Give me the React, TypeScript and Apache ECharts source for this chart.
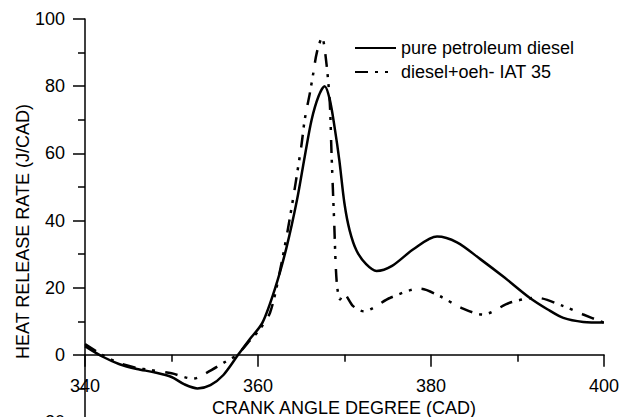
import React, { useEffect, useRef } from "react";
import * as echarts from "echarts";

const seriesNames = ["pure petroleum diesel", "diesel+oeh- IAT 35"];

const pureDiesel: [number, number][] = [
  [340, 2.6], [342, -0.5], [344, -2.8], [346, -4.2], [348, -5.2], [350, -6.6],
  [351.5, -8.8], [353, -10], [354.5, -9], [356, -6], [357.7, 0], [359, 4.5],
  [360.5, 9.5], [362, 20], [363.3, 32], [364.5, 46], [365.4, 59], [366.2, 70],
  [367, 77], [367.7, 80], [368.3, 76], [368.9, 67], [369.4, 58], [370, 45],
  [370.6, 37], [371.4, 31], [372.5, 27], [373.7, 25], [375.5, 26.5], [378, 31.5],
  [380.7, 35.2], [383, 33.5], [385.7, 28.5], [388.5, 23], [391.4, 17], [393.5, 13.5],
  [395.3, 11], [397.6, 9.8], [400, 9.6],
];

const oehBlend: [number, number][] = [
  [340, 3.2], [342, 0], [344, -2.5], [346, -3.9], [347.5, -4.5], [350, -5.5],
  [352.5, -7.1], [354.1, -5.3], [356.4, -1.8], [357.6, 0], [358.8, 3.5],
  [360.2, 7.6], [361.4, 12.6], [362.5, 24.5], [363.7, 41], [365, 62], [365.4, 70],
  [366, 78], [366.4, 84], [366.8, 90], [367.4, 94.4], [367.9, 87], [368.3, 75],
  [368.5, 60], [368.8, 40], [369.1, 21.6], [369.5, 16.5], [369.9, 18.3], [371, 14.5],
  [372.2, 13], [375.3, 17], [378.7, 19.7], [381, 17.5], [383.5, 14], [386, 12],
  [389.1, 15.5], [392.2, 17], [395.3, 14.5], [397.6, 12], [400, 9.6],
];

const xAxisTitle = "CRANK ANGLE DEGREE (CAD)";
const yAxisTitle = "HEAT RELEASE RATE (J/CAD)";

const FONT = "Liberation Sans, Arial, sans-serif";

export default function App() {
  const ref = useRef<HTMLDivElement>(null);
  useEffect(() => {
    if (!ref.current) return;
    const chart = echarts.init(ref.current, undefined, { renderer: "svg" });
    const axisCommon = {
      axisLine: { show: true, lineStyle: { color: "#000", width: 1.5 } },
      axisTick: { show: true, length: 12, lineStyle: { color: "#000", width: 1.5 } },
      minorTick: { show: true, splitNumber: 2, length: 7, lineStyle: { color: "#000", width: 1.5 } },
      splitLine: { show: false },
      axisLabel: { color: "#000", fontSize: 18, fontFamily: FONT },
    };
    const gridTop = 19;
    const gridHeight = 403;
    const yMin = -20;
    const yMax = 100;
    // shift the x axis up so that it sits on the y = 0 line
    const xOffset = -(gridHeight * (0 - yMin)) / (yMax - yMin);
    chart.setOption({
      animation: false,
      backgroundColor: "#fff",
      grid: {
        left: 85,
        top: gridTop,
        width: 519,
        height: gridHeight,
        containLabel: false,
        outerBoundsMode: "none",
      },
      xAxis: {
        type: "value",
        min: 340,
        max: 400,
        interval: 20,
        position: "bottom",
        offset: xOffset,
        ...axisCommon,
        axisLine: { ...axisCommon.axisLine, onZero: false },
        axisLabel: { ...axisCommon.axisLabel, margin: 22 },
      },
      yAxis: {
        type: "value",
        min: yMin,
        max: yMax,
        interval: 20,
        ...axisCommon,
        axisLabel: { ...axisCommon.axisLabel, margin: 20 },
      },
      legend: {
        orient: "vertical",
        left: 349,
        top: 34,
        itemWidth: 41,
        itemHeight: 14,
        itemGap: 6,
        itemStyle: { opacity: 0 },
        textStyle: { color: "#000", fontSize: 18, fontFamily: FONT },
        data: seriesNames,
      },
      graphic: [
        {
          type: "text",
          x: 344,
          y: 408,
          style: {
            text: xAxisTitle,
            fill: "#000",
            font: `18px ${FONT}`,
            textAlign: "center",
            textVerticalAlign: "middle",
          },
        },
        {
          type: "text",
          x: 23,
          y: 231.5,
          rotation: Math.PI / 2,
          style: {
            text: yAxisTitle,
            fill: "#000",
            font: `18px ${FONT}`,
            textAlign: "center",
            textVerticalAlign: "middle",
          },
        },
      ],
      series: [
        {
          name: seriesNames[0],
          type: "line",
          data: pureDiesel,
          showSymbol: false,
          symbol: "none",
          smooth: 0.3,
          lineStyle: { color: "#000", width: 2.5, type: "solid" },
          itemStyle: { color: "#000" },
        },
        {
          name: seriesNames[1],
          type: "line",
          data: oehBlend,
          showSymbol: false,
          symbol: "none",
          smooth: 0.3,
          lineStyle: { color: "#000", width: 2.5, type: [13, 7, 3, 7, 3, 10] },
          itemStyle: { color: "#000" },
        },
      ],
    });
    return () => chart.dispose();
  }, []);
  return (
    <div
      ref={ref}
      style={{ position: "fixed", left: 0, top: 0, width: 619, height: 417, background: "#fff" }}
    />
  );
}
